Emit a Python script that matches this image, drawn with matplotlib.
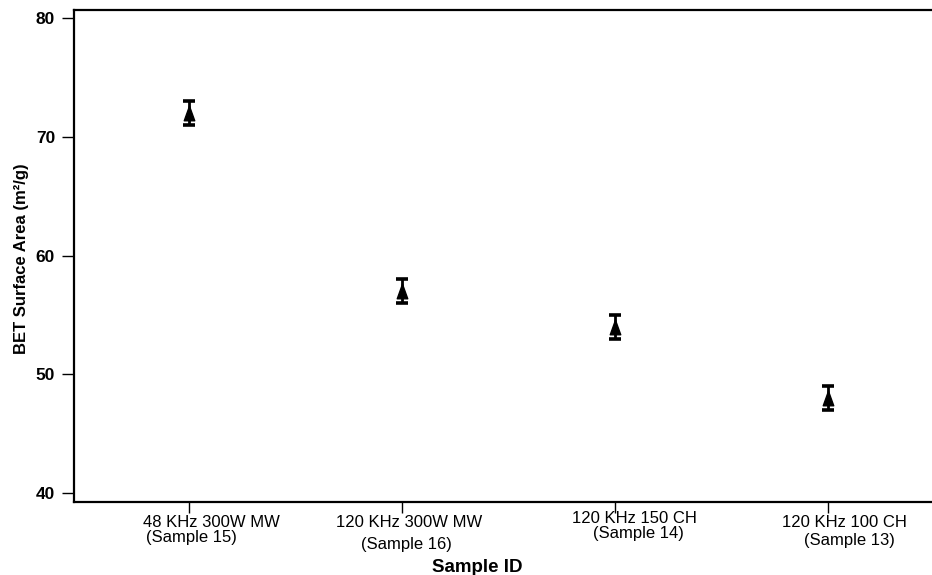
import matplotlib
matplotlib.use("Agg")
import matplotlib.pyplot as plt
import matplotlib.transforms as mtransforms

# ---- data ----
sample_line1 = ["48 KHz 300W MW", "120 KHz 300W MW", "120 KHz 150 CH", "120 KHz 100 CH"]
sample_line2 = ["(Sample 15)", "(Sample 16)", "(Sample 14)", "(Sample 13)"]
bet_area = [72, 57, 54, 48]
bet_err = [1, 1, 1, 1]
yticks = [40, 50, 60, 70, 80]

plt.rcParams['font.family'] = ['Liberation Sans', 'DejaVu Sans']

fig = plt.figure(figsize=(9.32, 5.75), dpi=100)
ax = fig.add_axes([74/932, 1-502/575, 1-74/932, (502-10)/575])

xpos = list(range(1, len(bet_area)+1))
tri = [(0, 1), (-0.72, -1), (0.72, -1), (0, 1)]
ax.errorbar(xpos, bet_area, yerr=bet_err, fmt='none', ecolor='black',
            elinewidth=2.0, capsize=4.2, capthick=2.6, zorder=2)
ax.plot(xpos, bet_area, linestyle='none', marker=tri, markersize=10.5,
        color='black', zorder=3)

ax.set_xlim(0.46, 4.49)
ax.set_ylim(39.25, 80.7)
ax.set_yticks(yticks)
ax.set_yticklabels([str(v) for v in yticks], fontsize=12.5, fontweight='bold')
ax.set_xticks(xpos)
ax.set_xticklabels([''] * len(xpos))

ax.tick_params(axis='y', direction='out', length=8.6, width=1.0, pad=5)
ax.tick_params(axis='x', direction='out', length=8, width=1.0)

for s in ['left', 'bottom', 'top']:
    ax.spines[s].set_linewidth(1.6)
ax.spines['right'].set_visible(False)

# two-line tick labels placed with pixel offsets relative to each tick
l1_dx = [22, 7, 20, 17]
l1_base = [527, 527, 523, 527]
l2_dx = [2, 5, 24, 22]
l2_base = [542, 549, 538, 545]
base = mtransforms.blended_transform_factory(ax.transData, fig.transFigure)
for i, x in enumerate(xpos):
    t1 = base + mtransforms.ScaledTranslation(l1_dx[i]/100, 0, fig.dpi_scale_trans)
    ax.text(x, 1 - l1_base[i]/575, sample_line1[i], transform=t1, ha='center',
            va='baseline', fontsize=12, clip_on=False)
    t2 = base + mtransforms.ScaledTranslation(l2_dx[i]/100, 0, fig.dpi_scale_trans)
    ax.text(x, 1 - l2_base[i]/575, sample_line2[i], transform=t2, ha='center',
            va='baseline', fontsize=12, clip_on=False)

fig.text(477/932, 1 - 572/575, "Sample ID", ha='center', va='baseline',
         fontsize=13.5, fontweight='bold')
fig.text(22/932, 1 - 259/575, "BET Surface Area (m²/g)", ha='center', va='center',
         rotation=90, fontsize=12, fontweight='bold')

fig.savefig("out.png", dpi=100)
